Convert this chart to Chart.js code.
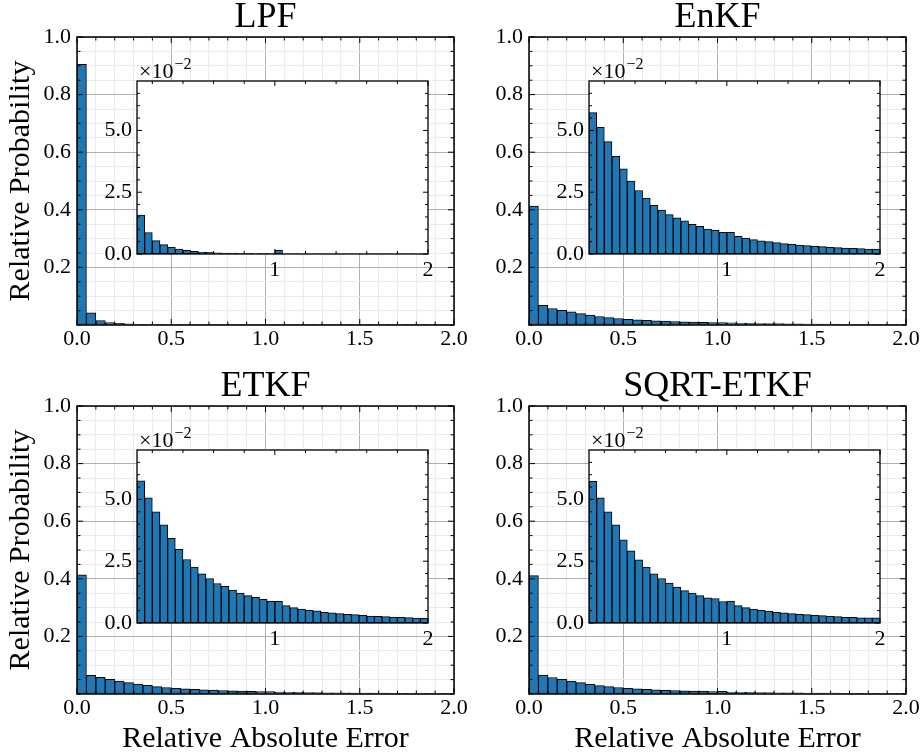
<!DOCTYPE html>
<html>
<head>
<meta charset="utf-8">
<title>Relative absolute error histograms</title>
<script src="https://cdn.jsdelivr.net/npm/chart.js@4.4.0/dist/chart.umd.min.js"></script>
<style>
    html, body { margin: 0; padding: 0; background: #fff; overflow: hidden; }
    #figure { position: relative; width: 923px; height: 756px; background: #fff; }
    #figure canvas { position: absolute; }
</style>
</head>
<body>
<div id="figure"></div>
<script>
// histogram bins (width 0.05 on [0, 2]), given by their centres
const binCenters = [
    0.025, 0.075, 0.125, 0.175, 0.225, 0.275, 0.325, 0.375, 0.425, 0.475,
    0.525, 0.575, 0.625, 0.675, 0.725, 0.775, 0.825, 0.875, 0.925, 0.975,
    1.025, 1.075, 1.125, 1.175, 1.225, 1.275, 1.325, 1.375, 1.425, 1.475,
    1.525, 1.575, 1.625, 1.675, 1.725, 1.775, 1.825, 1.875, 1.925, 1.975
];

const lpfValues = [
    0.905, 0.042, 0.0157, 0.0087, 0.0054, 0.0038, 0.0027, 0.0020, 0.0015, 0.0011,
    0.0008, 0.0007, 0.0005, 0.0004, 0.0004, 0.0003, 0.0003, 0.0002, 0.0002, 0.0002,
    0.0015, 0.0001, 0.0001, 0.0001, 0.0001, 0.0001, 0.0001, 0.0001, 0.0001, 0.0001,
    0.0001, 0.0001, 0.0001, 0.0001, 0.0001, 0.0001, 0.0001, 0.0001, 0.0001, 0.0001
];
const enkfValues = [
    0.413, 0.068, 0.0572, 0.0513, 0.0455, 0.0395, 0.0345, 0.0295, 0.0257, 0.0226,
    0.0197, 0.0178, 0.0159, 0.0146, 0.0134, 0.0120, 0.0112, 0.0101, 0.0096, 0.0088,
    0.0088, 0.0072, 0.0064, 0.0058, 0.0053, 0.0050, 0.0046, 0.0042, 0.0039, 0.0036,
    0.0034, 0.0031, 0.0030, 0.0027, 0.0026, 0.0024, 0.0023, 0.0022, 0.0020, 0.0020
];
const etkfValues = [
    0.414, 0.065, 0.0575, 0.0506, 0.0450, 0.0397, 0.0343, 0.0298, 0.0257, 0.0226,
    0.0199, 0.0180, 0.0160, 0.0148, 0.0133, 0.0121, 0.0111, 0.0104, 0.0096, 0.0088,
    0.0088, 0.0070, 0.0062, 0.0056, 0.0051, 0.0049, 0.0043, 0.0041, 0.0038, 0.0035,
    0.0034, 0.0031, 0.0028, 0.0027, 0.0026, 0.0024, 0.0023, 0.0022, 0.0020, 0.0019
];
const sqrtEtkfValues = [
    0.411, 0.066, 0.0573, 0.0506, 0.0450, 0.0397, 0.0337, 0.0292, 0.0256, 0.0226,
    0.0199, 0.0180, 0.0162, 0.0145, 0.0131, 0.0121, 0.0111, 0.0102, 0.0099, 0.0087,
    0.0089, 0.0070, 0.0062, 0.0056, 0.0051, 0.0048, 0.0043, 0.0041, 0.0038, 0.0035,
    0.0034, 0.0031, 0.0030, 0.0027, 0.0026, 0.0023, 0.0023, 0.0021, 0.0021, 0.0021
];

const panelTitles = ['LPF', 'EnKF', 'ETKF', 'SQRT-ETKF'];
const xAxisTitle = 'Relative Absolute Error';
const yAxisTitle = 'Relative Probability';

// tick positions of the main axes (labelled majors, unlabelled minors)
const mainXMajor = [0, 0.5, 1.0, 1.5, 2.0];
const mainXMinor = [0.1, 0.2, 0.3, 0.4, 0.6, 0.7, 0.8, 0.9, 1.1, 1.2, 1.3, 1.4, 1.6, 1.7, 1.8, 1.9];
const mainYMajor = [0.2, 0.4, 0.6, 0.8, 1.0];
const mainYMinor = [0, 0.05, 0.1, 0.15, 0.25, 0.3, 0.35, 0.45, 0.5, 0.55, 0.65, 0.7, 0.75, 0.85, 0.9, 0.95];

// tick positions of the zoomed insets (y shown in units of 1e-2)
const insetXMajor = [1, 2];
const insetXMinor = [0.2, 0.4, 0.6, 0.8, 1.2, 1.4, 1.6, 1.8];
const insetYMajor = [0, 0.025, 0.05];
const insetYMinor = [0.005, 0.01, 0.015, 0.02, 0.03, 0.035, 0.04, 0.045, 0.055, 0.06, 0.065];

const BAR_FILL = '#1f77b4';
const GRID_MAJOR = '#b0b0b0';
const GRID_MINOR = '#ebebeb';
const FONT = "'Liberation Serif', 'Times New Roman', serif";

Chart.defaults.font.family = FONT;
Chart.defaults.color = '#000';

const fig = document.getElementById('figure');

// which panel goes where: chart-area top-left corner minus the axis margins
const panels = [
    { title: panelTitles[0], values: lpfValues,      left: 0,   top: 0,   xTitle: false, yTitle: true },
    { title: panelTitles[1], values: enkfValues,     left: 452, top: 0,   xTitle: false, yTitle: false },
    { title: panelTitles[2], values: etkfValues,     left: 0,   top: 369, xTitle: true,  yTitle: true },
    { title: panelTitles[3], values: sqrtEtkfValues, left: 452, top: 369, xTitle: true,  yTitle: false }
];

function near(a, b) { return Math.abs(a - b) < 1e-9; }

function setTicks(scale, major, minor) {
    const all = major.concat(minor).sort((a, b) => a - b);
    scale.ticks = all.map(v => ({ value: v, big: major.some(m => near(m, v)) }));
}

function gridColor(ctx) {
    return ctx.tick && ctx.tick.big ? GRID_MAJOR : GRID_MINOR;
}

// inward ticks on all four sides plus a closed frame
const frameTicks = {
    id: 'frameTicks',
    afterDraw(chart, args, opts) {
        const { ctx, chartArea: a, scales: { x, y } } = chart;
        ctx.save();
        ctx.strokeStyle = '#000';
        ctx.lineWidth = opts.tickWidth;
        ctx.beginPath();
        x.ticks.forEach(t => {
            const px = x.getPixelForValue(t.value);
            const len = t.big ? opts.major : opts.minor;
            ctx.moveTo(px, a.bottom); ctx.lineTo(px, a.bottom - len);
            ctx.moveTo(px, a.top); ctx.lineTo(px, a.top + len);
        });
        y.ticks.forEach(t => {
            const py = y.getPixelForValue(t.value);
            const len = t.big ? opts.major : opts.minor;
            ctx.moveTo(a.left, py); ctx.lineTo(a.left + len, py);
            ctx.moveTo(a.right, py); ctx.lineTo(a.right - len, py);
        });
        ctx.stroke();
        ctx.lineWidth = opts.frameWidth;
        ctx.strokeRect(a.left, a.top, a.right - a.left, a.bottom - a.top);
        ctx.restore();
    }
};

// white face of the inset axes
const insetFace = {
    id: 'insetFace',
    beforeDraw(chart) {
        const { ctx, chartArea: a } = chart;
        ctx.save();
        ctx.fillStyle = '#fff';
        ctx.fillRect(a.left, a.top, a.right - a.left, a.bottom - a.top);
        ctx.restore();
    }
};

// the "x10^-2" offset text above the inset y axis
const offsetText = {
    id: 'offsetText',
    afterDraw(chart) {
        const { ctx, chartArea: a } = chart;
        ctx.save();
        ctx.fillStyle = '#000';
        ctx.textBaseline = 'alphabetic';
        ctx.textAlign = 'left';
        ctx.font = '22px ' + FONT;
        const base = '\u00d710';
        ctx.fillText(base, a.left + 2, a.top - 3);
        const w = ctx.measureText(base).width;
        ctx.font = '16px ' + FONT;
        ctx.fillText('\u22122', a.left + 3 + w, a.top - 12);
        ctx.restore();
    }
};

function barDataset(values) {
    return {
        data: binCenters.map((c, i) => ({ x: c, y: values[i] })),
        backgroundColor: BAR_FILL,
        borderColor: '#000',
        borderWidth: 1,
        borderSkipped: false,
        barPercentage: 1,
        categoryPercentage: 1
    };
}

function addCanvas(left, top, w, h) {
    const cv = document.createElement('canvas');
    cv.width = w;
    cv.height = h;
    cv.style.left = left + 'px';
    cv.style.top = top + 'px';
    fig.appendChild(cv);
    return cv;
}

function mainChart(p) {
    const cv = addCanvas(p.left, p.top, 476, 387);
    return new Chart(cv, {
        type: 'bar',
        data: { datasets: [barDataset(p.values)] },
        options: {
            responsive: false,
            animation: false,
            events: [],
            layout: { padding: { left: 0, top: 0, right: 22, bottom: 0 } },
            plugins: {
                legend: { display: false },
                tooltip: { enabled: false },
                title: {
                    display: true,
                    text: p.title,
                    fullSize: false,
                    color: '#000',
                    font: { size: 36, weight: 'normal', lineHeight: 1 },
                    padding: { top: 0, bottom: 1 }
                },
                frameTicks: { major: 6, minor: 3.5, tickWidth: 1, frameWidth: 1.5 }
            },
            scales: {
                x: {
                    type: 'linear',
                    min: 0,
                    max: 2,
                    offset: false,
                    afterBuildTicks: s => setTicks(s, mainXMajor, mainXMinor),
                    afterFit: s => { s.height = 62; },
                    grid: { offset: false, drawTicks: false, color: gridColor, lineWidth: 1 },
                    border: { display: false },
                    ticks: {
                        autoSkip: false,
                        maxRotation: 0,
                        padding: 1,
                        font: { size: 22 },
                        callback: (v, i, t) => t[i].big ? v.toFixed(1) : ''
                    },
                    title: {
                        display: p.xTitle,
                        text: xAxisTitle,
                        font: { size: 30, lineHeight: 1 },
                        padding: { top: 0, bottom: 2 }
                    }
                },
                y: {
                    type: 'linear',
                    min: 0,
                    max: 1,
                    afterBuildTicks: s => setTicks(s, mainYMajor, mainYMinor),
                    afterFit: s => { s.width = 77; },
                    grid: { drawTicks: false, color: gridColor, lineWidth: 1 },
                    border: { display: false },
                    ticks: {
                        autoSkip: false,
                        padding: 6,
                        font: { size: 22 },
                        callback: (v, i, t) => t[i].big ? v.toFixed(1) : ''
                    },
                    title: {
                        display: p.yTitle,
                        text: yAxisTitle,
                        font: { size: 30, lineHeight: 1 },
                        padding: { top: 6, bottom: 0 }
                    }
                }
            }
        },
        plugins: [frameTicks]
    });
}

function insetChart(p) {
    const cv = addCanvas(p.left + 87, p.top + 56, 353, 233);
    return new Chart(cv, {
        type: 'bar',
        data: { datasets: [barDataset(p.values)] },
        options: {
            responsive: false,
            animation: false,
            events: [],
            layout: { padding: { left: 0, top: 25, right: 12, bottom: 0 } },
            plugins: {
                legend: { display: false },
                tooltip: { enabled: false },
                frameTicks: { major: 5, minor: 3, tickWidth: 1, frameWidth: 1.3 }
            },
            scales: {
                x: {
                    type: 'linear',
                    min: 0.1,
                    max: 2,
                    offset: false,
                    afterBuildTicks: s => setTicks(s, insetXMajor, insetXMinor),
                    afterFit: s => { s.height = 35; },
                    grid: { display: false, offset: false, drawTicks: false },
                    border: { display: false },
                    ticks: {
                        autoSkip: false,
                        maxRotation: 0,
                        padding: 3,
                        font: { size: 22 },
                        callback: (v, i, t) => t[i].big ? String(v) : ''
                    }
                },
                y: {
                    type: 'linear',
                    min: 0,
                    max: 0.07,
                    afterBuildTicks: s => setTicks(s, insetYMajor, insetYMinor),
                    afterFit: s => { s.width = 50; },
                    grid: { display: false, drawTicks: false },
                    border: { display: false },
                    ticks: {
                        autoSkip: false,
                        padding: 5,
                        font: { size: 22 },
                        callback: (v, i, t) => t[i].big ? (v * 100).toFixed(1) : ''
                    }
                }
            }
        },
        plugins: [insetFace, frameTicks, offsetText]
    });
}

panels.forEach(p => {
    mainChart(p);
    insetChart(p);
});
</script>
</body>
</html>
